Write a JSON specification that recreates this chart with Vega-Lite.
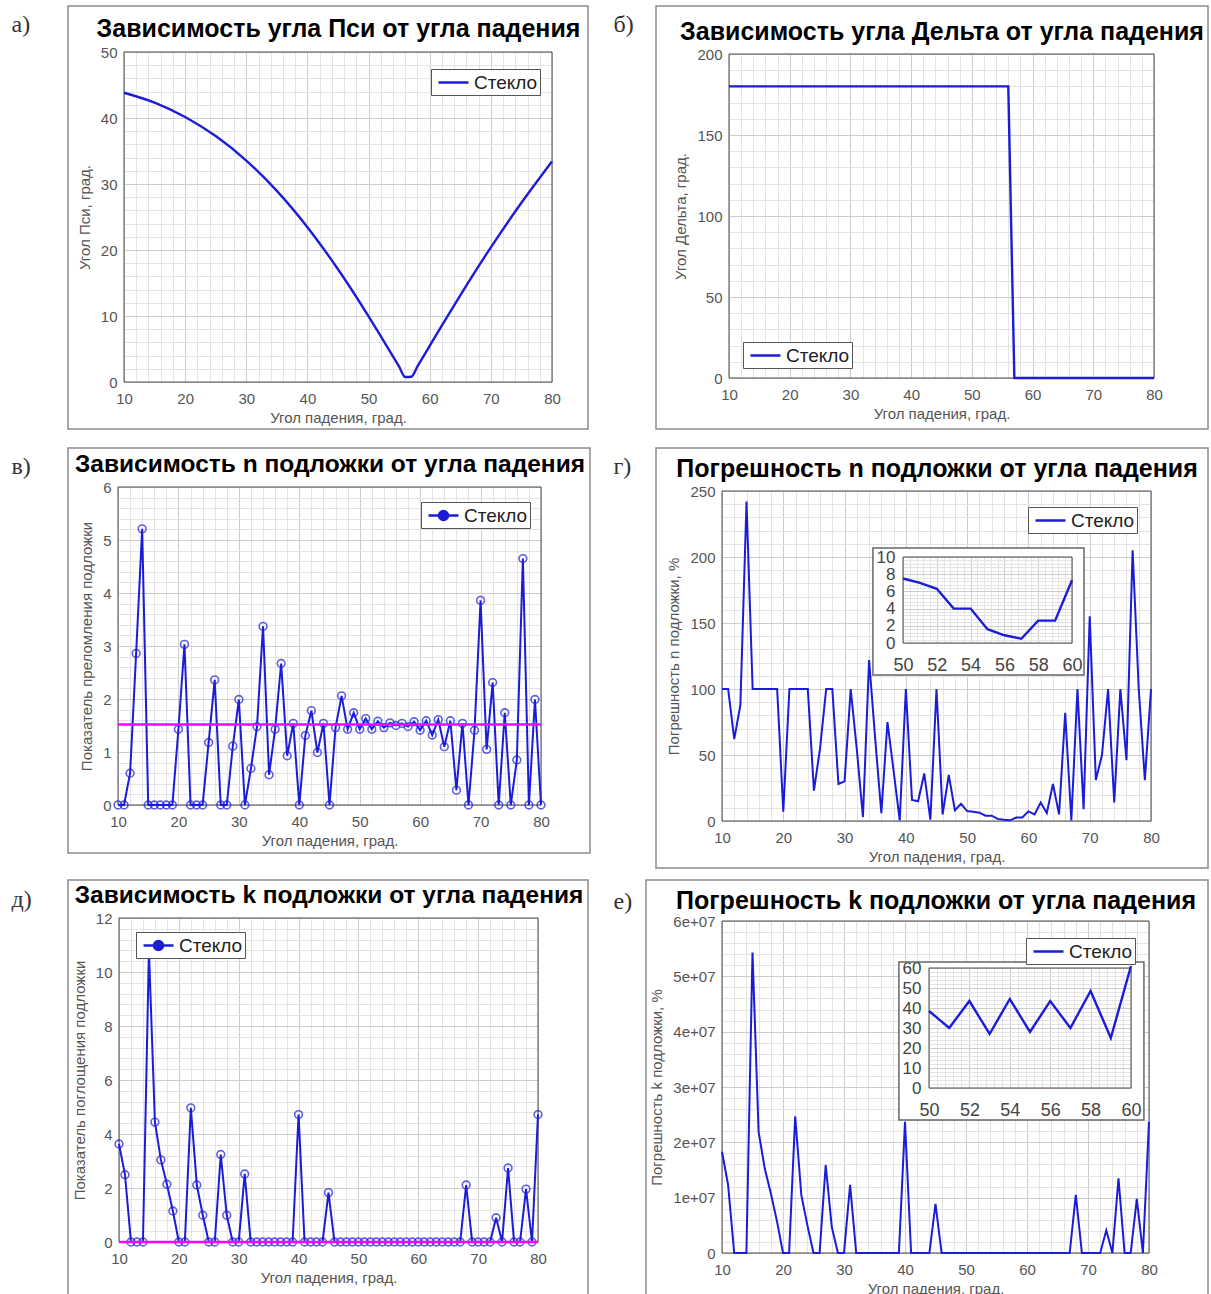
{
"$schema": "https://vega.github.io/schema/vega-lite/v6.json",
"background": "white",
"padding": {"left": 10, "top": 5, "right": 0, "bottom": 0},
"datasets": {
"psi": [{"angle":10,"psi":43.83},{"angle":15,"psi":42.33},{"angle":20,"psi":40.16},{"angle":25,"psi":37.26},{"angle":30,"psi":33.55},{"angle":35,"psi":28.96},{"angle":40,"psi":23.46},{"angle":45,"psi":17.08},{"angle":50,"psi":9.95},{"angle":53,"psi":5.41},{"angle":55,"psi":2.32},{"angle":56,"psi":0.76},{"angle":57,"psi":0.8},{"angle":58,"psi":2.37},{"angle":60,"psi":5.49},{"angle":62,"psi":8.59},{"angle":65,"psi":13.14},{"angle":70,"psi":20.4},{"angle":75,"psi":27.15},{"angle":80,"psi":33.42}],
"delta": [{"angle":10,"delta":180},{"angle":56,"delta":180},{"angle":57,"delta":0},{"angle":80,"delta":0}],
"n": [{"angle":10,"n":0},{"angle":11,"n":0},{"angle":12,"n":0.6},{"angle":13,"n":2.86},{"angle":14,"n":5.21},{"angle":15,"n":0},{"angle":16,"n":0},{"angle":17,"n":0},{"angle":18,"n":0},{"angle":19,"n":0},{"angle":20,"n":1.43},{"angle":21,"n":3.03},{"angle":22,"n":0},{"angle":23,"n":0},{"angle":24,"n":0},{"angle":25,"n":1.18},{"angle":26,"n":2.36},{"angle":27,"n":0},{"angle":28,"n":0},{"angle":29,"n":1.11},{"angle":30,"n":1.99},{"angle":31,"n":0},{"angle":32,"n":0.69},{"angle":33,"n":1.48},{"angle":34,"n":3.37},{"angle":35,"n":0.57},{"angle":36,"n":1.43},{"angle":37,"n":2.67},{"angle":38,"n":0.93},{"angle":39,"n":1.54},{"angle":40,"n":0},{"angle":41,"n":1.31},{"angle":42,"n":1.78},{"angle":43,"n":0.99},{"angle":44,"n":1.54},{"angle":45,"n":0},{"angle":46,"n":1.46},{"angle":47,"n":2.06},{"angle":48,"n":1.43},{"angle":49,"n":1.74},{"angle":50,"n":1.43},{"angle":51,"n":1.63},{"angle":52,"n":1.43},{"angle":53,"n":1.58},{"angle":54,"n":1.46},{"angle":55,"n":1.55},{"angle":56,"n":1.5},{"angle":57,"n":1.54},{"angle":58,"n":1.48},{"angle":59,"n":1.57},{"angle":60,"n":1.41},{"angle":61,"n":1.59},{"angle":62,"n":1.32},{"angle":63,"n":1.61},{"angle":64,"n":1.1},{"angle":65,"n":1.59},{"angle":66,"n":0.28},{"angle":67,"n":1.54},{"angle":68,"n":0},{"angle":69,"n":1.41},{"angle":70,"n":3.86},{"angle":71,"n":1.05},{"angle":72,"n":2.31},{"angle":73,"n":0},{"angle":74,"n":1.74},{"angle":75,"n":0},{"angle":76,"n":0.85},{"angle":77,"n":4.65},{"angle":78,"n":0},{"angle":79,"n":1.99},{"angle":80,"n":0}],
"dn": [{"angle":10,"err":100},{"angle":11,"err":100},{"angle":12,"err":62},{"angle":13,"err":88},{"angle":14,"err":242},{"angle":15,"err":100},{"angle":16,"err":100},{"angle":17,"err":100},{"angle":18,"err":100},{"angle":19,"err":100},{"angle":20,"err":7},{"angle":21,"err":100},{"angle":22,"err":100},{"angle":23,"err":100},{"angle":24,"err":100},{"angle":25,"err":23},{"angle":26,"err":55},{"angle":27,"err":100},{"angle":28,"err":100},{"angle":29,"err":28},{"angle":30,"err":30},{"angle":31,"err":100},{"angle":32,"err":54},{"angle":33,"err":3},{"angle":34,"err":122},{"angle":35,"err":62},{"angle":36,"err":6},{"angle":37,"err":75},{"angle":38,"err":38},{"angle":39,"err":0.5},{"angle":40,"err":100},{"angle":41,"err":16},{"angle":42,"err":15},{"angle":43,"err":36},{"angle":44,"err":1},{"angle":45,"err":100},{"angle":46,"err":5},{"angle":47,"err":35},{"angle":48,"err":8},{"angle":49,"err":13},{"angle":50,"err":7.5},{"angle":51,"err":7.0},{"angle":52,"err":6.3},{"angle":53,"err":4.0},{"angle":54,"err":4.0},{"angle":55,"err":1.6},{"angle":56,"err":0.9},{"angle":57,"err":0.5},{"angle":58,"err":2.6},{"angle":59,"err":2.6},{"angle":60,"err":7.3},{"angle":61,"err":5},{"angle":62,"err":14},{"angle":63,"err":6},{"angle":64,"err":28},{"angle":65,"err":5},{"angle":66,"err":82},{"angle":67,"err":0.5},{"angle":68,"err":100},{"angle":69,"err":9},{"angle":70,"err":155},{"angle":71,"err":31},{"angle":72,"err":50},{"angle":73,"err":100},{"angle":74,"err":14},{"angle":75,"err":100},{"angle":76,"err":46},{"angle":77,"err":205},{"angle":78,"err":100},{"angle":79,"err":31},{"angle":80,"err":100}],
"k": [{"angle":10,"k":3.63},{"angle":11,"k":2.49},{"angle":12,"k":0},{"angle":13,"k":0},{"angle":14,"k":0},{"angle":15,"k":10.8},{"angle":16,"k":4.44},{"angle":17,"k":3.04},{"angle":18,"k":2.14},{"angle":19,"k":1.15},{"angle":20,"k":0},{"angle":21,"k":0},{"angle":22,"k":4.97},{"angle":23,"k":2.11},{"angle":24,"k":0.99},{"angle":25,"k":0},{"angle":26,"k":0},{"angle":27,"k":3.24},{"angle":28,"k":0.99},{"angle":29,"k":0},{"angle":30,"k":0},{"angle":31,"k":2.52},{"angle":32,"k":0},{"angle":33,"k":0},{"angle":34,"k":0},{"angle":35,"k":0},{"angle":36,"k":0},{"angle":37,"k":0},{"angle":38,"k":0},{"angle":39,"k":0},{"angle":40,"k":4.72},{"angle":41,"k":0},{"angle":42,"k":0},{"angle":43,"k":0},{"angle":44,"k":0},{"angle":45,"k":1.83},{"angle":46,"k":0},{"angle":47,"k":0},{"angle":48,"k":0},{"angle":49,"k":0},{"angle":50,"k":0},{"angle":51,"k":0},{"angle":52,"k":0},{"angle":53,"k":0},{"angle":54,"k":0},{"angle":55,"k":0},{"angle":56,"k":0},{"angle":57,"k":0},{"angle":58,"k":0},{"angle":59,"k":0},{"angle":60,"k":0},{"angle":61,"k":0},{"angle":62,"k":0},{"angle":63,"k":0},{"angle":64,"k":0},{"angle":65,"k":0},{"angle":66,"k":0},{"angle":67,"k":0},{"angle":68,"k":2.11},{"angle":69,"k":0},{"angle":70,"k":0},{"angle":71,"k":0},{"angle":72,"k":0},{"angle":73,"k":0.9},{"angle":74,"k":0},{"angle":75,"k":2.74},{"angle":76,"k":0},{"angle":77,"k":0},{"angle":78,"k":1.96},{"angle":79,"k":0},{"angle":80,"k":4.72}],
"dk": [{"angle":10,"err":18300000},{"angle":11,"err":12300000},{"angle":12,"err":0},{"angle":13,"err":0},{"angle":14,"err":0},{"angle":15,"err":54300000},{"angle":16,"err":21900000},{"angle":17,"err":15300000},{"angle":18,"err":10800000},{"angle":19,"err":5800000},{"angle":20,"err":0},{"angle":21,"err":0},{"angle":22,"err":24700000},{"angle":23,"err":10500000},{"angle":24,"err":5000000},{"angle":25,"err":0},{"angle":26,"err":0},{"angle":27,"err":15900000},{"angle":28,"err":4700000},{"angle":29,"err":0},{"angle":30,"err":0},{"angle":31,"err":12300000},{"angle":32,"err":0},{"angle":33,"err":0},{"angle":34,"err":0},{"angle":35,"err":0},{"angle":36,"err":0},{"angle":37,"err":0},{"angle":38,"err":0},{"angle":39,"err":0},{"angle":40,"err":23700000},{"angle":41,"err":0},{"angle":42,"err":0},{"angle":43,"err":0},{"angle":44,"err":0},{"angle":45,"err":8900000},{"angle":46,"err":0},{"angle":47,"err":0},{"angle":48,"err":0},{"angle":49,"err":0},{"angle":50,"err":38.5},{"angle":51,"err":30},{"angle":52,"err":43.5},{"angle":53,"err":27},{"angle":54,"err":44.5},{"angle":55,"err":28},{"angle":56,"err":43.5},{"angle":57,"err":30},{"angle":58,"err":48.5},{"angle":59,"err":25},{"angle":60,"err":61},{"angle":61,"err":0},{"angle":62,"err":0},{"angle":63,"err":0},{"angle":64,"err":0},{"angle":65,"err":0},{"angle":66,"err":0},{"angle":67,"err":0},{"angle":68,"err":10500000},{"angle":69,"err":0},{"angle":70,"err":0},{"angle":71,"err":0},{"angle":72,"err":0},{"angle":73,"err":4100000},{"angle":74,"err":0},{"angle":75,"err":13500000},{"angle":76,"err":0},{"angle":77,"err":0},{"angle":78,"err":9800000},{"angle":79,"err":0},{"angle":80,"err":23700000}]
},
"spacing": 17,
"resolve": {"scale": {"stroke": "independent"}, "legend": {"stroke": "independent"}},
"vconcat": [
{
"hconcat": [
{
"width": 520, "height": 423,
"layer": [
{"data": {"values": [{}]},
 "mark": {"type": "rect", "fillOpacity": 0, "stroke": "#4d4d4d", "strokeWidth": 1},
 "encoding": {
  "x": {"datum": 10, "type": "quantitative", "scale": {"domain": [10, 80], "range": [56, 484]},
   "axis": {"orient": "top", "offset": -46, "values": [10,12,14,16,18,20,22,24,26,28,30,32,34,36,38,40,42,44,46,48,50,52,54,56,58,60,62,64,66,68,70,72,74,76,78,80], "labels": false, "grid": true,
    "gridColor": {"condition": {"test": "datum.value % 10 === 0", "value": "#cdcdcd"}, "value": "#e4e4e4"},
    "title": "Зависимость угла Пси от угла падения", "titleFontSize": 25, "titleFontWeight": "bold", "titleColor": "#000000", "titleY": -24, "titleBaseline": "middle"}},
  "x2": {"datum": 80},
  "y": {"datum": 0, "type": "quantitative", "scale": {"domain": [0, 50], "range": [376, 46]},
   "axis": {"orient": "left", "offset": -56, "labels": false, "title": "а)", "titleAngle": 0, "titleX": -113, "titleY": 25, "titleAlign": "left", "titleBaseline": "alphabetic", "titleFont": "Liberation Serif", "titleFontSize": 24, "titleColor": "#333333"}},
  "y2": {"datum": 50}}},
{"data": {"name": "psi"},
 "mark": {"type": "line", "strokeWidth": 2.4, "interpolate": "monotone"},
 "encoding": {
  "x": {"field": "angle", "type": "quantitative", "scale": {"domain": [10, 80], "range": [56, 484]},
   "axis": {"orient": "bottom", "offset": -47, "values": [10,20,30,40,50,60,70,80], "labelPadding": 9, "title": "Угол падения, град.", "titlePadding": 4}},
  "y": {"field": "psi", "type": "quantitative", "scale": {"domain": [0, 50], "range": [376, 46]},
   "axis": {"orient": "left", "offset": -56, "values": [0,2,4,6,8,10,12,14,16,18,20,22,24,26,28,30,32,34,36,38,40,42,44,46,48,50], "grid": true,
    "gridColor": {"condition": {"test": "datum.value % 10 === 0", "value": "#cdcdcd"}, "value": "#e4e4e4"},
    "labelExpr": "datum.value % 10 === 0 ? format(datum.value, '~g') : ''", "labelPadding": 7, "title": "Угол Пси, град.", "titlePadding": 8}},
  "stroke": {"datum": "Стекло", "type": "nominal", "scale": {"range": ["#1c1cd8"]}, "legend": {"title": null, "orient": "none", "legendX": 363, "legendY": 63}}}}
],
"resolve": {"axis": {"x": "independent", "y": "independent"}}
},
{
"width": 552, "height": 423,
"layer": [
{"data": {"values": [{}]},
 "mark": {"type": "rect", "fillOpacity": 0, "stroke": "#4d4d4d", "strokeWidth": 1},
 "encoding": {
  "x": {"datum": 10, "type": "quantitative", "scale": {"domain": [10, 80], "range": [73, 498]},
   "axis": {"orient": "top", "offset": -48, "values": [10,12,14,16,18,20,22,24,26,28,30,32,34,36,38,40,42,44,46,48,50,52,54,56,58,60,62,64,66,68,70,72,74,76,78,80], "labels": false, "grid": true,
    "gridColor": {"condition": {"test": "datum.value % 10 === 0", "value": "#cdcdcd"}, "value": "#e4e4e4"},
    "title": "Зависимость угла Дельта от угла падения", "titleFontSize": 25, "titleFontWeight": "bold", "titleColor": "#000000", "titleY": -23, "titleBaseline": "middle"}},
  "x2": {"datum": 80},
  "y": {"datum": 0, "type": "quantitative", "scale": {"domain": [0, 200], "range": [372, 48]},
   "axis": {"orient": "left", "offset": -73, "labels": false, "title": "б)", "titleAngle": 0, "titleX": -116, "titleY": 25, "titleAlign": "left", "titleBaseline": "alphabetic", "titleFont": "Liberation Serif", "titleFontSize": 24, "titleColor": "#333333"}},
  "y2": {"datum": 200}}},
{"data": {"name": "delta"},
 "mark": {"type": "line", "strokeWidth": 2.4},
 "encoding": {
  "x": {"field": "angle", "type": "quantitative", "scale": {"domain": [10, 80], "range": [73, 498]},
   "axis": {"orient": "bottom", "offset": -51, "values": [10,20,30,40,50,60,70,80], "labelPadding": 9, "title": "Угол падения, град.", "titlePadding": 4}},
  "y": {"field": "delta", "type": "quantitative", "scale": {"domain": [0, 200], "range": [372, 48]},
   "axis": {"orient": "left", "offset": -73, "values": [0,10,20,30,40,50,60,70,80,90,100,110,120,130,140,150,160,170,180,190,200], "grid": true,
    "gridColor": {"condition": {"test": "datum.value % 50 === 0", "value": "#cdcdcd"}, "value": "#e4e4e4"},
    "labelExpr": "datum.value % 50 === 0 ? format(datum.value, '~g') : ''", "labelPadding": 7, "title": "Угол Дельта, град.", "titlePadding": 8}},
  "stroke": {"datum": "Стекло", "type": "nominal", "scale": {"range": ["#1c1cd8"]}, "legend": {"title": null, "orient": "none", "legendX": 87, "legendY": 336}}}}
],
"resolve": {"axis": {"x": "independent", "y": "independent"}}
}
],
"spacing": 68, "bounds": "flush",
"resolve": {"scale": {"stroke": "independent"}, "legend": {"stroke": "independent"}}
},
{
"vconcat": [
{
"hconcat": [
{
"width": 522, "height": 405,
"layer": [
{"data": {"values": [{}]},
 "mark": {"type": "rect", "fillOpacity": 0, "stroke": "#4d4d4d", "strokeWidth": 1},
 "encoding": {
  "x": {"datum": 10, "type": "quantitative", "scale": {"domain": [10, 80], "range": [50, 473]},
   "axis": {"orient": "top", "offset": -39, "values": [10,12,14,16,18,20,22,24,26,28,30,32,34,36,38,40,42,44,46,48,50,52,54,56,58,60,62,64,66,68,70,72,74,76,78,80], "labels": false, "grid": true,
    "gridColor": {"condition": {"test": "datum.value % 10 === 0", "value": "#cdcdcd"}, "value": "#e4e4e4"},
    "title": "Зависимость n подложки от угла падения", "titleFontSize": 24.5, "titleFontWeight": "bold", "titleColor": "#000000", "titleY": -23, "titleBaseline": "middle"}},
  "x2": {"datum": 80},
  "y": {"datum": 0, "type": "quantitative", "scale": {"domain": [0, 6], "range": [357, 39]},
   "axis": {"orient": "left", "offset": -50, "labels": false, "title": "в)", "titleAngle": 0, "titleX": -107, "titleY": 25, "titleAlign": "left", "titleBaseline": "alphabetic", "titleFont": "Liberation Serif", "titleFontSize": 24, "titleColor": "#333333"}},
  "y2": {"datum": 6}}},
{"data": {"name": "n"},
 "mark": {"type": "line", "strokeWidth": 2},
 "encoding": {
  "x": {"field": "angle", "type": "quantitative", "scale": {"domain": [10, 80], "range": [50, 473]},
   "axis": {"orient": "bottom", "offset": -48, "values": [10,20,30,40,50,60,70,80], "labelPadding": 9, "title": "Угол падения, град.", "titlePadding": 4}},
  "y": {"field": "n", "type": "quantitative", "scale": {"domain": [0, 6], "range": [357, 39]},
   "axis": {"orient": "left", "offset": -50, "values": [0,0.2,0.4,0.6,0.8,1,1.2,1.4,1.6,1.8,2,2.2,2.4,2.6,2.8,3,3.2,3.4,3.6,3.8,4,4.2,4.4,4.6,4.8,5,5.2,5.4,5.6,5.8,6], "grid": true,
    "gridColor": {"condition": {"test": "abs(datum.value - round(datum.value)) < 0.001", "value": "#cdcdcd"}, "value": "#e4e4e4"},
    "labelExpr": "abs(datum.value - round(datum.value)) < 0.001 ? format(datum.value, '~g') : ''", "labelPadding": 7, "title": "Показатель преломления подложки", "titlePadding": 8}},
  "stroke": {"datum": "Стекло", "type": "nominal", "scale": {"range": ["#1c1cd8"]}, "legend": {"title": null, "orient": "none", "legendX": 353, "legendY": 54, "symbolType": "M-1.5,0L-0.45,0M0.45,0L1.5,0M0.45,0A0.45,0.45,0,1,1,-0.45,0A0.45,0.45,0,1,1,0.45,0", "symbolFillColor": "#1c1cd8"}}}},
{"data": {"name": "n"},
 "mark": {"type": "point", "shape": "circle", "filled": false, "color": "#1c1cd8", "size": 60, "strokeWidth": 1.6},
 "encoding": {
  "x": {"field": "angle", "type": "quantitative", "scale": {"domain": [10, 80], "range": [50, 473]}, "axis": null},
  "y": {"field": "n", "type": "quantitative", "scale": {"domain": [0, 6], "range": [357, 39]}, "axis": null}}},
{"data": {"values": [{}]},
 "mark": {"type": "rule", "color": "#ff00ff", "strokeWidth": 2.5},
 "encoding": {
  "x": {"datum": 10, "type": "quantitative", "scale": {"domain": [10, 80], "range": [50, 473]}, "axis": null},
  "x2": {"datum": 80},
  "y": {"datum": 1.52, "type": "quantitative", "scale": {"domain": [0, 6], "range": [357, 39]}, "axis": null}}}
],
"resolve": {"axis": {"x": "independent", "y": "independent"}}
},
{
"width": 552, "height": 420,
"layer": [
{"layer": [
{"data": {"values": [{}]},
 "mark": {"type": "rect", "fillOpacity": 0, "stroke": "#4d4d4d", "strokeWidth": 1},
 "encoding": {
  "x": {"datum": 10, "type": "quantitative", "scale": {"domain": [10, 80], "range": [66, 495]},
   "axis": {"orient": "top", "offset": -43, "values": [10,12,14,16,18,20,22,24,26,28,30,32,34,36,38,40,42,44,46,48,50,52,54,56,58,60,62,64,66,68,70,72,74,76,78,80], "labels": false, "grid": true,
    "gridColor": {"condition": {"test": "datum.value % 10 === 0", "value": "#cdcdcd"}, "value": "#e4e4e4"},
    "gridOpacity": {"condition": {"test": "datum.value >= 35 && datum.value <= 69", "value": 0}, "value": 1},
    "title": "Погрешность n подложки от угла падения", "titleFontSize": 25, "titleFontWeight": "bold", "titleColor": "#000000", "titleY": -23, "titleBaseline": "middle"}},
  "x2": {"datum": 80},
  "y": {"datum": 0, "type": "quantitative", "scale": {"domain": [0, 250], "range": [373, 43]},
   "axis": {"orient": "left", "offset": -66, "labels": false, "title": "г)", "titleAngle": 0, "titleX": -109, "titleY": 25, "titleAlign": "left", "titleBaseline": "alphabetic", "titleFont": "Liberation Serif", "titleFontSize": 24, "titleColor": "#333333"}},
  "y2": {"datum": 250}}},
{"data": {"name": "dn"},
 "mark": {"type": "line", "strokeWidth": 2},
 "encoding": {
  "x": {"field": "angle", "type": "quantitative", "scale": {"domain": [10, 80], "range": [66, 495]},
   "axis": {"orient": "bottom", "offset": -47, "values": [10,20,30,40,50,60,70,80], "labelPadding": 9, "title": "Угол падения, град.", "titlePadding": 4}},
  "y": {"field": "err", "type": "quantitative", "scale": {"domain": [0, 250], "range": [373, 43]},
   "axis": {"orient": "left", "offset": -66, "values": [0,10,20,30,40,50,60,70,80,90,100,110,120,130,140,150,160,170,180,190,200,210,220,230,240,250], "grid": true,
    "gridColor": {"condition": {"test": "datum.value % 50 === 0", "value": "#cdcdcd"}, "value": "#e4e4e4"},
    "gridOpacity": {"condition": {"test": "datum.value >= 111 && datum.value <= 206", "value": 0}, "value": 1},
    "labelExpr": "datum.value % 50 === 0 ? format(datum.value, '~g') : ''", "labelPadding": 7, "title": "Погрешность n подложки, %", "titlePadding": 8}},
  "stroke": {"datum": "Стекло", "type": "nominal", "scale": {"range": ["#1c1cd8"]}, "legend": {"title": null, "orient": "none", "legendX": 372, "legendY": 59}}}}
],
"resolve": {"axis": {"x": "independent", "y": "independent"}}},
{"data": {"values": [{}]},
 "mark": {"type": "point", "opacity": 0},
 "encoding": {
  "x": {"datum": 10, "type": "quantitative", "scale": {"domain": [10, 80], "range": [66, 495]},
   "axis": {"orient": "top", "offset": -43, "values": [36,38,40,42,44,46,48,50,52,54,56,58,60,62,64,66,68], "labels": false, "grid": true, "title": null,
    "gridColor": {"condition": {"test": "datum.value % 10 === 0", "value": "#cdcdcd"}, "value": "#e4e4e4"}}},
  "y": {"datum": 0, "type": "quantitative", "scale": {"domain": [0, 1], "range": [100, 43]}, "axis": null}}},
{"data": {"values": [{}]},
 "mark": {"type": "point", "opacity": 0},
 "encoding": {
  "x": {"datum": 10, "type": "quantitative", "scale": {"domain": [10, 80], "range": [66, 495]},
   "axis": {"orient": "top", "offset": -43, "values": [36,38,40,42,44,46,48,50,52,54,56,58,60,62,64,66,68], "labels": false, "grid": true, "title": null,
    "gridColor": {"condition": {"test": "datum.value % 10 === 0", "value": "#cdcdcd"}, "value": "#e4e4e4"}}},
  "y": {"datum": 0, "type": "quantitative", "scale": {"domain": [0, 1], "range": [373, 227]}, "axis": null}}},
{"data": {"values": [{}]},
 "mark": {"type": "point", "opacity": 0},
 "encoding": {
  "x": {"datum": 0, "type": "quantitative", "scale": {"domain": [0, 1], "range": [66, 217]}, "axis": null},
  "y": {"datum": 0, "type": "quantitative", "scale": {"domain": [0, 250], "range": [373, 43]},
   "axis": {"orient": "left", "offset": -66, "values": [120,130,140,150,160,170,180,190,200], "labels": false, "grid": true, "title": null,
    "gridColor": {"condition": {"test": "datum.value % 50 === 0", "value": "#cdcdcd"}, "value": "#e4e4e4"}}}}},
{"data": {"values": [{}]},
 "mark": {"type": "point", "opacity": 0},
 "encoding": {
  "x": {"datum": 0, "type": "quantitative", "scale": {"domain": [0, 1], "range": [428, 495]}, "axis": null},
  "y": {"datum": 0, "type": "quantitative", "scale": {"domain": [0, 250], "range": [373, 43]},
   "axis": {"orient": "left", "offset": -66, "values": [120,130,140,150,160,170,180,190,200], "labels": false, "grid": true, "title": null,
    "gridColor": {"condition": {"test": "datum.value % 50 === 0", "value": "#cdcdcd"}, "value": "#e4e4e4"}}}}},
{"layer": [
{"data": {"values": [{}]},
 "mark": {"type": "rect", "fillOpacity": 0, "stroke": "#666666", "strokeWidth": 1.5},
 "encoding": {
  "x": {"datum": 48.22, "type": "quantitative", "scale": {"domain": [50, 60], "range": [247, 416]},
   "axis": {"orient": "top", "offset": -109, "values": [50,50.4,50.8,51.2,51.6,52,52.4,52.8,53.2,53.6,54,54.4,54.8,55.2,55.6,56,56.4,56.8,57.2,57.6,58,58.4,58.8,59.2,59.6,60], "labels": false, "grid": true,
    "gridColor": {"condition": {"test": "abs(datum.value / 2 - round(datum.value / 2)) < 0.001", "value": "#cdcdcd"}, "value": "#e4e4e4"}, "title": null}},
  "x2": {"datum": 60.71},
  "y": {"datum": -3.72, "type": "quantitative", "scale": {"domain": [0, 10], "range": [195, 109]}, "axis": null},
  "y2": {"datum": 11.05}}},
{"data": {"values": [{}]},
 "mark": {"type": "rect", "fillOpacity": 0, "stroke": "#4d4d4d", "strokeWidth": 1},
 "encoding": {
  "x": {"datum": 50, "type": "quantitative", "scale": {"domain": [50, 60], "range": [247, 416]}, "axis": null},
  "x2": {"datum": 60},
  "y": {"datum": 0, "type": "quantitative", "scale": {"domain": [0, 10], "range": [195, 109]}, "axis": null},
  "y2": {"datum": 10}}},
{"data": {"name": "dn"},
 "transform": [{"filter": "datum.angle >= 50 && datum.angle <= 60"}],
 "mark": {"type": "line", "color": "#1c1cd8", "strokeWidth": 2.4},
 "encoding": {
  "x": {"field": "angle", "type": "quantitative", "scale": {"domain": [50, 60], "range": [247, 416]},
   "axis": {"orient": "bottom", "offset": -225, "values": [50,52,54,56,58,60], "labelPadding": 13, "labelFontSize": 18, "labelColor": "#444444", "title": null}},
  "y": {"field": "err", "type": "quantitative", "scale": {"domain": [0, 10], "range": [195, 109]},
   "axis": {"orient": "left", "offset": -247, "values": [0,0.4,0.8,1.2,1.6,2,2.4,2.8,3.2,3.6,4,4.4,4.8,5.2,5.6,6,6.4,6.8,7.2,7.6,8,8.4,8.8,9.2,9.6,10], "grid": true,
    "gridColor": {"condition": {"test": "abs(datum.value / 2 - round(datum.value / 2)) < 0.001", "value": "#cdcdcd"}, "value": "#e4e4e4"},
    "labelExpr": "abs(datum.value / 2 - round(datum.value / 2)) < 0.001 ? format(datum.value, '~g') : ''", "labelPadding": 8, "labelFontSize": 17, "labelColor": "#444444", "title": null}}}}
],
"resolve": {"axis": {"x": "independent", "y": "independent"}}}
],
"resolve": {"scale": {"x": "independent", "y": "independent"}, "axis": {"x": "independent", "y": "independent"}}
}
],
"spacing": 66, "bounds": "flush",
"resolve": {"scale": {"stroke": "independent"}, "legend": {"stroke": "independent"}}
},
{
"hconcat": [
{
"width": 520, "height": 415,
"layer": [
{"data": {"values": [{}]},
 "mark": {"type": "rect", "fillOpacity": 0, "stroke": "#4d4d4d", "strokeWidth": 1},
 "encoding": {
  "x": {"datum": 10, "type": "quantitative", "scale": {"domain": [10, 80], "range": [51, 470]},
   "axis": {"orient": "top", "offset": -38, "values": [10,12,14,16,18,20,22,24,26,28,30,32,34,36,38,40,42,44,46,48,50,52,54,56,58,60,62,64,66,68,70,72,74,76,78,80], "labels": false, "grid": true,
    "gridColor": {"condition": {"test": "datum.value % 10 === 0", "value": "#cdcdcd"}, "value": "#e4e4e4"},
    "title": "Зависимость k подложки от угла падения", "titleFontSize": 24.5, "titleFontWeight": "bold", "titleColor": "#000000", "titleY": -23, "titleBaseline": "middle"}},
  "x2": {"datum": 80},
  "y": {"datum": 0, "type": "quantitative", "scale": {"domain": [0, 12], "range": [362, 38]},
   "axis": {"orient": "left", "offset": -51, "labels": false, "title": "д)", "titleAngle": 0, "titleX": -108, "titleY": 26, "titleAlign": "left", "titleBaseline": "alphabetic", "titleFont": "Liberation Serif", "titleFontSize": 24, "titleColor": "#333333"}},
  "y2": {"datum": 12}}},
{"data": {"name": "k"},
 "mark": {"type": "line", "strokeWidth": 2},
 "encoding": {
  "x": {"field": "angle", "type": "quantitative", "scale": {"domain": [10, 80], "range": [51, 470]},
   "axis": {"orient": "bottom", "offset": -53, "values": [10,20,30,40,50,60,70,80], "labelPadding": 9, "title": "Угол падения, град.", "titlePadding": 4}},
  "y": {"field": "k", "type": "quantitative", "scale": {"domain": [0, 12], "range": [362, 38]},
   "axis": {"orient": "left", "offset": -51, "values": [0,0.4,0.8,1.2,1.6,2,2.4,2.8,3.2,3.6,4,4.4,4.8,5.2,5.6,6,6.4,6.8,7.2,7.6,8,8.4,8.8,9.2,9.6,10,10.4,10.8,11.2,11.6,12], "grid": true,
    "gridColor": {"condition": {"test": "abs(datum.value / 2 - round(datum.value / 2)) < 0.001", "value": "#cdcdcd"}, "value": "#e4e4e4"},
    "labelExpr": "abs(datum.value / 2 - round(datum.value / 2)) < 0.001 ? format(datum.value, '~g') : ''", "labelPadding": 7, "title": "Показатель поглощения подложки", "titlePadding": 8}},
  "stroke": {"datum": "Стекло", "type": "nominal", "scale": {"range": ["#1c1cd8"]}, "legend": {"title": null, "orient": "none", "legendX": 68, "legendY": 52, "symbolType": "M-1.5,0L-0.45,0M0.45,0L1.5,0M0.45,0A0.45,0.45,0,1,1,-0.45,0A0.45,0.45,0,1,1,0.45,0", "symbolFillColor": "#1c1cd8"}}}},
{"data": {"name": "k"},
 "mark": {"type": "point", "shape": "circle", "filled": false, "color": "#1c1cd8", "size": 60, "strokeWidth": 1.6},
 "encoding": {
  "x": {"field": "angle", "type": "quantitative", "scale": {"domain": [10, 80], "range": [51, 470]}, "axis": null},
  "y": {"field": "k", "type": "quantitative", "scale": {"domain": [0, 12], "range": [362, 38]}, "axis": null}}},
{"data": {"values": [{}]},
 "mark": {"type": "rule", "color": "#ff00ff", "strokeWidth": 2.5},
 "encoding": {
  "x": {"datum": 10, "type": "quantitative", "scale": {"domain": [10, 80], "range": [51, 470]}, "axis": null},
  "x2": {"datum": 80},
  "y": {"datum": 0, "type": "quantitative", "scale": {"domain": [0, 12], "range": [362, 38]}, "axis": null}}}
],
"resolve": {"axis": {"x": "independent", "y": "independent"}}
},
{
"width": 562, "height": 419,
"layer": [
{"layer": [
{"data": {"values": [{}]},
 "mark": {"type": "rect", "fillOpacity": 0, "stroke": "#4d4d4d", "strokeWidth": 1},
 "encoding": {
  "x": {"datum": 10, "type": "quantitative", "scale": {"domain": [10, 80], "range": [76, 503]},
   "axis": {"orient": "top", "offset": -41, "values": [10,12,14,16,18,20,22,24,26,28,30,32,34,36,38,40,42,44,46,48,50,52,54,56,58,60,62,64,66,68,70,72,74,76,78,80], "labels": false, "grid": true,
    "gridColor": {"condition": {"test": "datum.value % 10 === 0", "value": "#cdcdcd"}, "value": "#e4e4e4"},
    "gridOpacity": {"condition": {"test": "datum.value >= 39 && datum.value <= 79", "value": 0}, "value": 1},
    "title": "Погрешность k подложки от угла падения", "titleFontSize": 25, "titleFontWeight": "bold", "titleColor": "#000000", "titleY": -21, "titleBaseline": "middle"}},
  "x2": {"datum": 80},
  "y": {"datum": 0, "type": "quantitative", "scale": {"domain": [0, 60000000], "range": [373, 41]},
   "axis": {"orient": "left", "offset": -76, "labels": false, "title": "е)", "titleAngle": 0, "titleX": -109, "titleY": 28, "titleAlign": "left", "titleBaseline": "alphabetic", "titleFont": "Liberation Serif", "titleFontSize": 24, "titleColor": "#333333"}},
  "y2": {"datum": 60000000}}},
{"data": {"name": "dk"},
 "mark": {"type": "line", "strokeWidth": 2},
 "encoding": {
  "x": {"field": "angle", "type": "quantitative", "scale": {"domain": [10, 80], "range": [76, 503]},
   "axis": {"orient": "bottom", "offset": -46, "values": [10,20,30,40,50,60,70,80], "labelPadding": 9, "title": "Угол падения, град.", "titlePadding": 4}},
  "y": {"field": "err", "type": "quantitative", "scale": {"domain": [0, 60000000], "range": [373, 41]},
   "axis": {"orient": "left", "offset": -76, "values": [0,2000000,4000000,6000000,8000000,10000000,12000000,14000000,16000000,18000000,20000000,22000000,24000000,26000000,28000000,30000000,32000000,34000000,36000000,38000000,40000000,42000000,44000000,46000000,48000000,50000000,52000000,54000000,56000000,58000000,60000000], "grid": true,
    "gridColor": {"condition": {"test": "abs(datum.value / 10000000 - round(datum.value / 10000000)) < 0.001", "value": "#cdcdcd"}, "value": "#e4e4e4"},
    "gridOpacity": {"condition": {"test": "datum.value >= 25000000 && datum.value <= 53000000", "value": 0}, "value": 1},
    "labelExpr": "abs(datum.value / 10000000 - round(datum.value / 10000000)) < 0.001 ? (datum.value === 0 ? '0' : round(datum.value / 10000000) + 'e+07') : ''", "labelPadding": 7, "title": "Погрешность k подложки, %", "titlePadding": 8}},
  "stroke": {"datum": "Стекло", "type": "nominal", "scale": {"range": ["#1c1cd8"]}, "legend": {"title": null, "orient": "none", "legendX": 380, "legendY": 58}}}}
],
"resolve": {"axis": {"x": "independent", "y": "independent"}}},
{"data": {"values": [{}]},
 "mark": {"type": "point", "opacity": 0},
 "encoding": {
  "x": {"datum": 10, "type": "quantitative", "scale": {"domain": [10, 80], "range": [76, 503]},
   "axis": {"orient": "top", "offset": -41, "values": [40,42,44,46,48,50,52,54,56,58,60,62,64,66,68,70,72,74,76,78], "labels": false, "grid": true, "title": null,
    "gridColor": {"condition": {"test": "datum.value % 10 === 0", "value": "#cdcdcd"}, "value": "#e4e4e4"}}},
  "y": {"datum": 0, "type": "quantitative", "scale": {"domain": [0, 1], "range": [82, 41]}, "axis": null}}},
{"data": {"values": [{}]},
 "mark": {"type": "point", "opacity": 0},
 "encoding": {
  "x": {"datum": 10, "type": "quantitative", "scale": {"domain": [10, 80], "range": [76, 503]},
   "axis": {"orient": "top", "offset": -41, "values": [40,42,44,46,48,50,52,54,56,58,60,62,64,66,68,70,72,74,76,78], "labels": false, "grid": true, "title": null,
    "gridColor": {"condition": {"test": "datum.value % 10 === 0", "value": "#cdcdcd"}, "value": "#e4e4e4"}}},
  "y": {"datum": 0, "type": "quantitative", "scale": {"domain": [0, 1], "range": [373, 240]}, "axis": null}}},
{"data": {"values": [{}]},
 "mark": {"type": "point", "opacity": 0},
 "encoding": {
  "x": {"datum": 0, "type": "quantitative", "scale": {"domain": [0, 1], "range": [76, 253]}, "axis": null},
  "y": {"datum": 0, "type": "quantitative", "scale": {"domain": [0, 60000000], "range": [373, 41]},
   "axis": {"orient": "left", "offset": -76, "values": [26000000,28000000,30000000,32000000,34000000,36000000,38000000,40000000,42000000,44000000,46000000,48000000,50000000,52000000], "labels": false, "grid": true, "title": null,
    "gridColor": {"condition": {"test": "abs(datum.value / 10000000 - round(datum.value / 10000000)) < 0.001", "value": "#cdcdcd"}, "value": "#e4e4e4"}}}}},
{"data": {"values": [{}]},
 "mark": {"type": "point", "opacity": 0},
 "encoding": {
  "x": {"datum": 0, "type": "quantitative", "scale": {"domain": [0, 1], "range": [498, 503]}, "axis": null},
  "y": {"datum": 0, "type": "quantitative", "scale": {"domain": [0, 60000000], "range": [373, 41]},
   "axis": {"orient": "left", "offset": -76, "values": [26000000,28000000,30000000,32000000,34000000,36000000,38000000,40000000,42000000,44000000,46000000,48000000,50000000,52000000], "labels": false, "grid": true, "title": null,
    "gridColor": {"condition": {"test": "abs(datum.value / 10000000 - round(datum.value / 10000000)) < 0.001", "value": "#cdcdcd"}, "value": "#e4e4e4"}}}}},
{"layer": [
{"data": {"values": [{}]},
 "mark": {"type": "rect", "fillOpacity": 0, "stroke": "#666666", "strokeWidth": 1.5},
 "encoding": {
  "x": {"datum": 48.51, "type": "quantitative", "scale": {"domain": [50, 60], "range": [283, 485]},
   "axis": {"orient": "top", "offset": -88, "values": [50,50.4,50.8,51.2,51.6,52,52.4,52.8,53.2,53.6,54,54.4,54.8,55.2,55.6,56,56.4,56.8,57.2,57.6,58,58.4,58.8,59.2,59.6,60], "labels": false, "grid": true,
    "gridColor": {"condition": {"test": "abs(datum.value / 2 - round(datum.value / 2)) < 0.001", "value": "#cdcdcd"}, "value": "#e4e4e4"}, "title": null}},
  "x2": {"datum": 60.64},
  "y": {"datum": -16, "type": "quantitative", "scale": {"domain": [0, 60], "range": [208, 88]}, "axis": null},
  "y2": {"datum": 63}}},
{"data": {"values": [{}]},
 "mark": {"type": "rect", "fillOpacity": 0, "stroke": "#4d4d4d", "strokeWidth": 1},
 "encoding": {
  "x": {"datum": 50, "type": "quantitative", "scale": {"domain": [50, 60], "range": [283, 485]}, "axis": null},
  "x2": {"datum": 60},
  "y": {"datum": 0, "type": "quantitative", "scale": {"domain": [0, 60], "range": [208, 88]}, "axis": null},
  "y2": {"datum": 60}}},
{"data": {"name": "dk"},
 "transform": [{"filter": "datum.angle >= 50 && datum.angle <= 60"}],
 "mark": {"type": "line", "color": "#1c1cd8", "strokeWidth": 2.4},
 "encoding": {
  "x": {"field": "angle", "type": "quantitative", "scale": {"domain": [50, 60], "range": [283, 485]},
   "axis": {"orient": "bottom", "offset": -211, "values": [50,52,54,56,58,60], "labelPadding": 13, "labelFontSize": 18, "labelColor": "#444444", "title": null}},
  "y": {"field": "err", "type": "quantitative", "scale": {"domain": [0, 60], "range": [208, 88]},
   "axis": {"orient": "left", "offset": -283, "values": [0,2,4,6,8,10,12,14,16,18,20,22,24,26,28,30,32,34,36,38,40,42,44,46,48,50,52,54,56,58,60], "grid": true,
    "gridColor": {"condition": {"test": "datum.value % 10 === 0", "value": "#cdcdcd"}, "value": "#e4e4e4"},
    "labelExpr": "datum.value % 10 === 0 ? format(datum.value, '~g') : ''", "labelPadding": 8, "labelFontSize": 17, "labelColor": "#444444", "title": null}}}}
],
"resolve": {"axis": {"x": "independent", "y": "independent"}}}
],
"resolve": {"scale": {"x": "independent", "y": "independent"}, "axis": {"x": "independent", "y": "independent"}}
}
],
"spacing": 58, "bounds": "flush",
"resolve": {"scale": {"stroke": "independent"}, "legend": {"stroke": "independent"}}
}
],
"spacing": 10,
"resolve": {"scale": {"stroke": "independent"}, "legend": {"stroke": "independent"}}
}
],
"config": {
 "view": {"stroke": "#8c8c8c", "strokeWidth": 1.5},
 "axis": {"ticks": false, "domain": false, "grid": false, "labelFont": "Liberation Sans", "labelFontSize": 15, "labelColor": "#555555", "titleFont": "Liberation Sans", "titleFontSize": 15, "titleFontWeight": "normal", "titleColor": "#555555", "labelOverlap": false, "labelFlush": false, "gridWidth": 1},
 "legend": {"labelFont": "Liberation Sans", "labelFontSize": 19, "labelColor": "#222222", "strokeColor": "#555555", "fillColor": "#ffffff", "padding": 2, "symbolType": "M-1.5,0L1.5,0", "symbolSize": 400, "symbolOffset": 9, "symbolStrokeWidth": 2.5, "labelOffset": 9}
}
}
